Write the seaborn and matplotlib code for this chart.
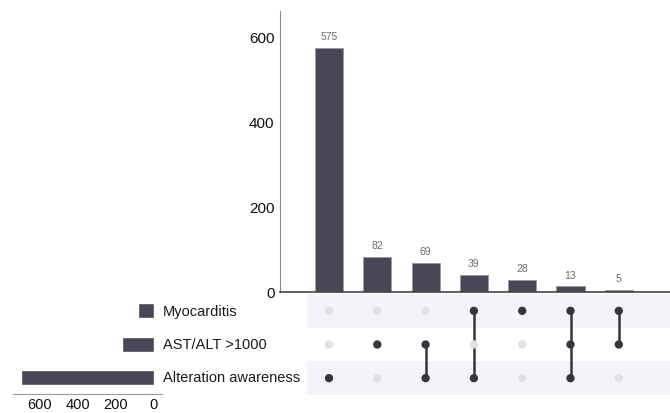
import matplotlib
matplotlib.use("Agg")
import matplotlib.pyplot as plt
import seaborn as sns
import pandas as pd
import numpy as np

# UpSet style chart: intersection sizes, membership matrix, set sizes

sets = ["Myocarditis", "AST/ALT >1000", "Alteration awareness"]
set_sizes = [85, 169, 696]
inter_counts = [575, 82, 69, 39, 28, 13, 5]
# one row per intersection, columns follow `sets`
inter_members = [
    [0, 0, 1],
    [0, 1, 0],
    [0, 1, 1],
    [1, 0, 1],
    [1, 0, 0],
    [1, 1, 1],
    [1, 1, 0],
]

sns.set_style("white")
plt.rcParams["font.family"] = ["Liberation Sans", "DejaVu Sans"]

BAR = "#484756"
DOT_ON = "#36353f"
DOT_OFF = "#dfe1e7"
STRIPE = "#f3f4f8"

W, H = 670, 414
fig = plt.figure(figsize=(W / 100, H / 100), dpi=100)


def box(l, t, r, b):
    return [l / W, 1 - b / H, (r - l) / W, (b - t) / H]


step = 48.3   # pixel spacing between intersection columns
x0 = 329      # pixel centre of first column

# --- intersection bars
ax_bar = fig.add_axes(box(280, 12, 670, 293))
bars_df = pd.DataFrame({"pos": range(len(inter_counts)), "count": inter_counts})
sns.barplot(data=bars_df, x="pos", y="count", color=BAR, width=0.58,
            edgecolor="#9a99a3", linewidth=0.7, saturation=1, ax=ax_bar)
ax_bar.bar_label(ax_bar.containers[0], padding=5, fontsize=7.5, color="#6a6a6a")
ax_bar.set_xlim(-(x0 - 280) / step, (670 - x0) / step)
ax_bar.set_ylim(0, 661)
ax_bar.set_yticks([0, 200, 400, 600])
ax_bar.tick_params(axis="y", labelsize=11, length=3, color="#777777", pad=1,
                   labelcolor="#111111")
ax_bar.set_xticks([])
ax_bar.set_xlabel("")
ax_bar.set_ylabel("")
sns.despine(ax=ax_bar)
ax_bar.spines["left"].set_color("#888888")
ax_bar.spines["bottom"].set_color("#444444")
ax_bar.spines["bottom"].set_linewidth(1.2)

# --- membership matrix
ax_mat = fig.add_axes(box(307, 295, 670, 396))
for j in range(len(sets)):
    if j % 2 == 0:
        ax_mat.axhspan(j - 0.5, j + 0.5, color=STRIPE, lw=0, zorder=0)

rows = []
for i, mem in enumerate(inter_members):
    for j, m in enumerate(mem):
        rows.append({"pos": i, "set": j, "on": "on" if m else "off"})
    on_idx = [j for j, m in enumerate(mem) if m]
    if len(on_idx) > 1:
        ax_mat.plot([i, i], [min(on_idx), max(on_idx)], color=DOT_ON, lw=1.8, zorder=2)
dots = pd.DataFrame(rows)
sns.scatterplot(data=dots, x="pos", y="set", hue="on",
                palette={"on": DOT_ON, "off": DOT_OFF}, s=36, linewidth=0,
                legend=False, zorder=3, ax=ax_mat)
ax_mat.set_xlim(-(x0 - 307) / step, (670 - x0) / step)
ax_mat.set_ylim(2.5, -0.5)
ax_mat.axis("off")

# --- set sizes
ax_set = fig.add_axes(box(13, 295, 162, 395))
set_df = pd.DataFrame({"size": set_sizes, "set": sets})
sns.barplot(data=set_df, x="size", y="set", orient="h", color=BAR, width=0.45,
            saturation=1, ax=ax_set)
ax_set.set_xlim(738, -42)
ax_set.set_ylim(2.5, -0.5)
ax_set.set_xticks([600, 400, 200, 0])
ax_set.tick_params(axis="x", labelsize=10.5, length=2, color="#777777", pad=0.5,
                   labelcolor="#111111")
ax_set.set_yticks([])
ax_set.set_xlabel("")
ax_set.set_ylabel("")
sns.despine(ax=ax_set, left=True)
ax_set.spines["bottom"].set_color("#999999")
for j, name in enumerate(sets):
    ax_set.text(1.007, j, name, transform=ax_set.get_yaxis_transform(),
                ha="left", va="center", fontsize=10.5, color="#1a1a1a")

fig.savefig("out.png", dpi=100)
